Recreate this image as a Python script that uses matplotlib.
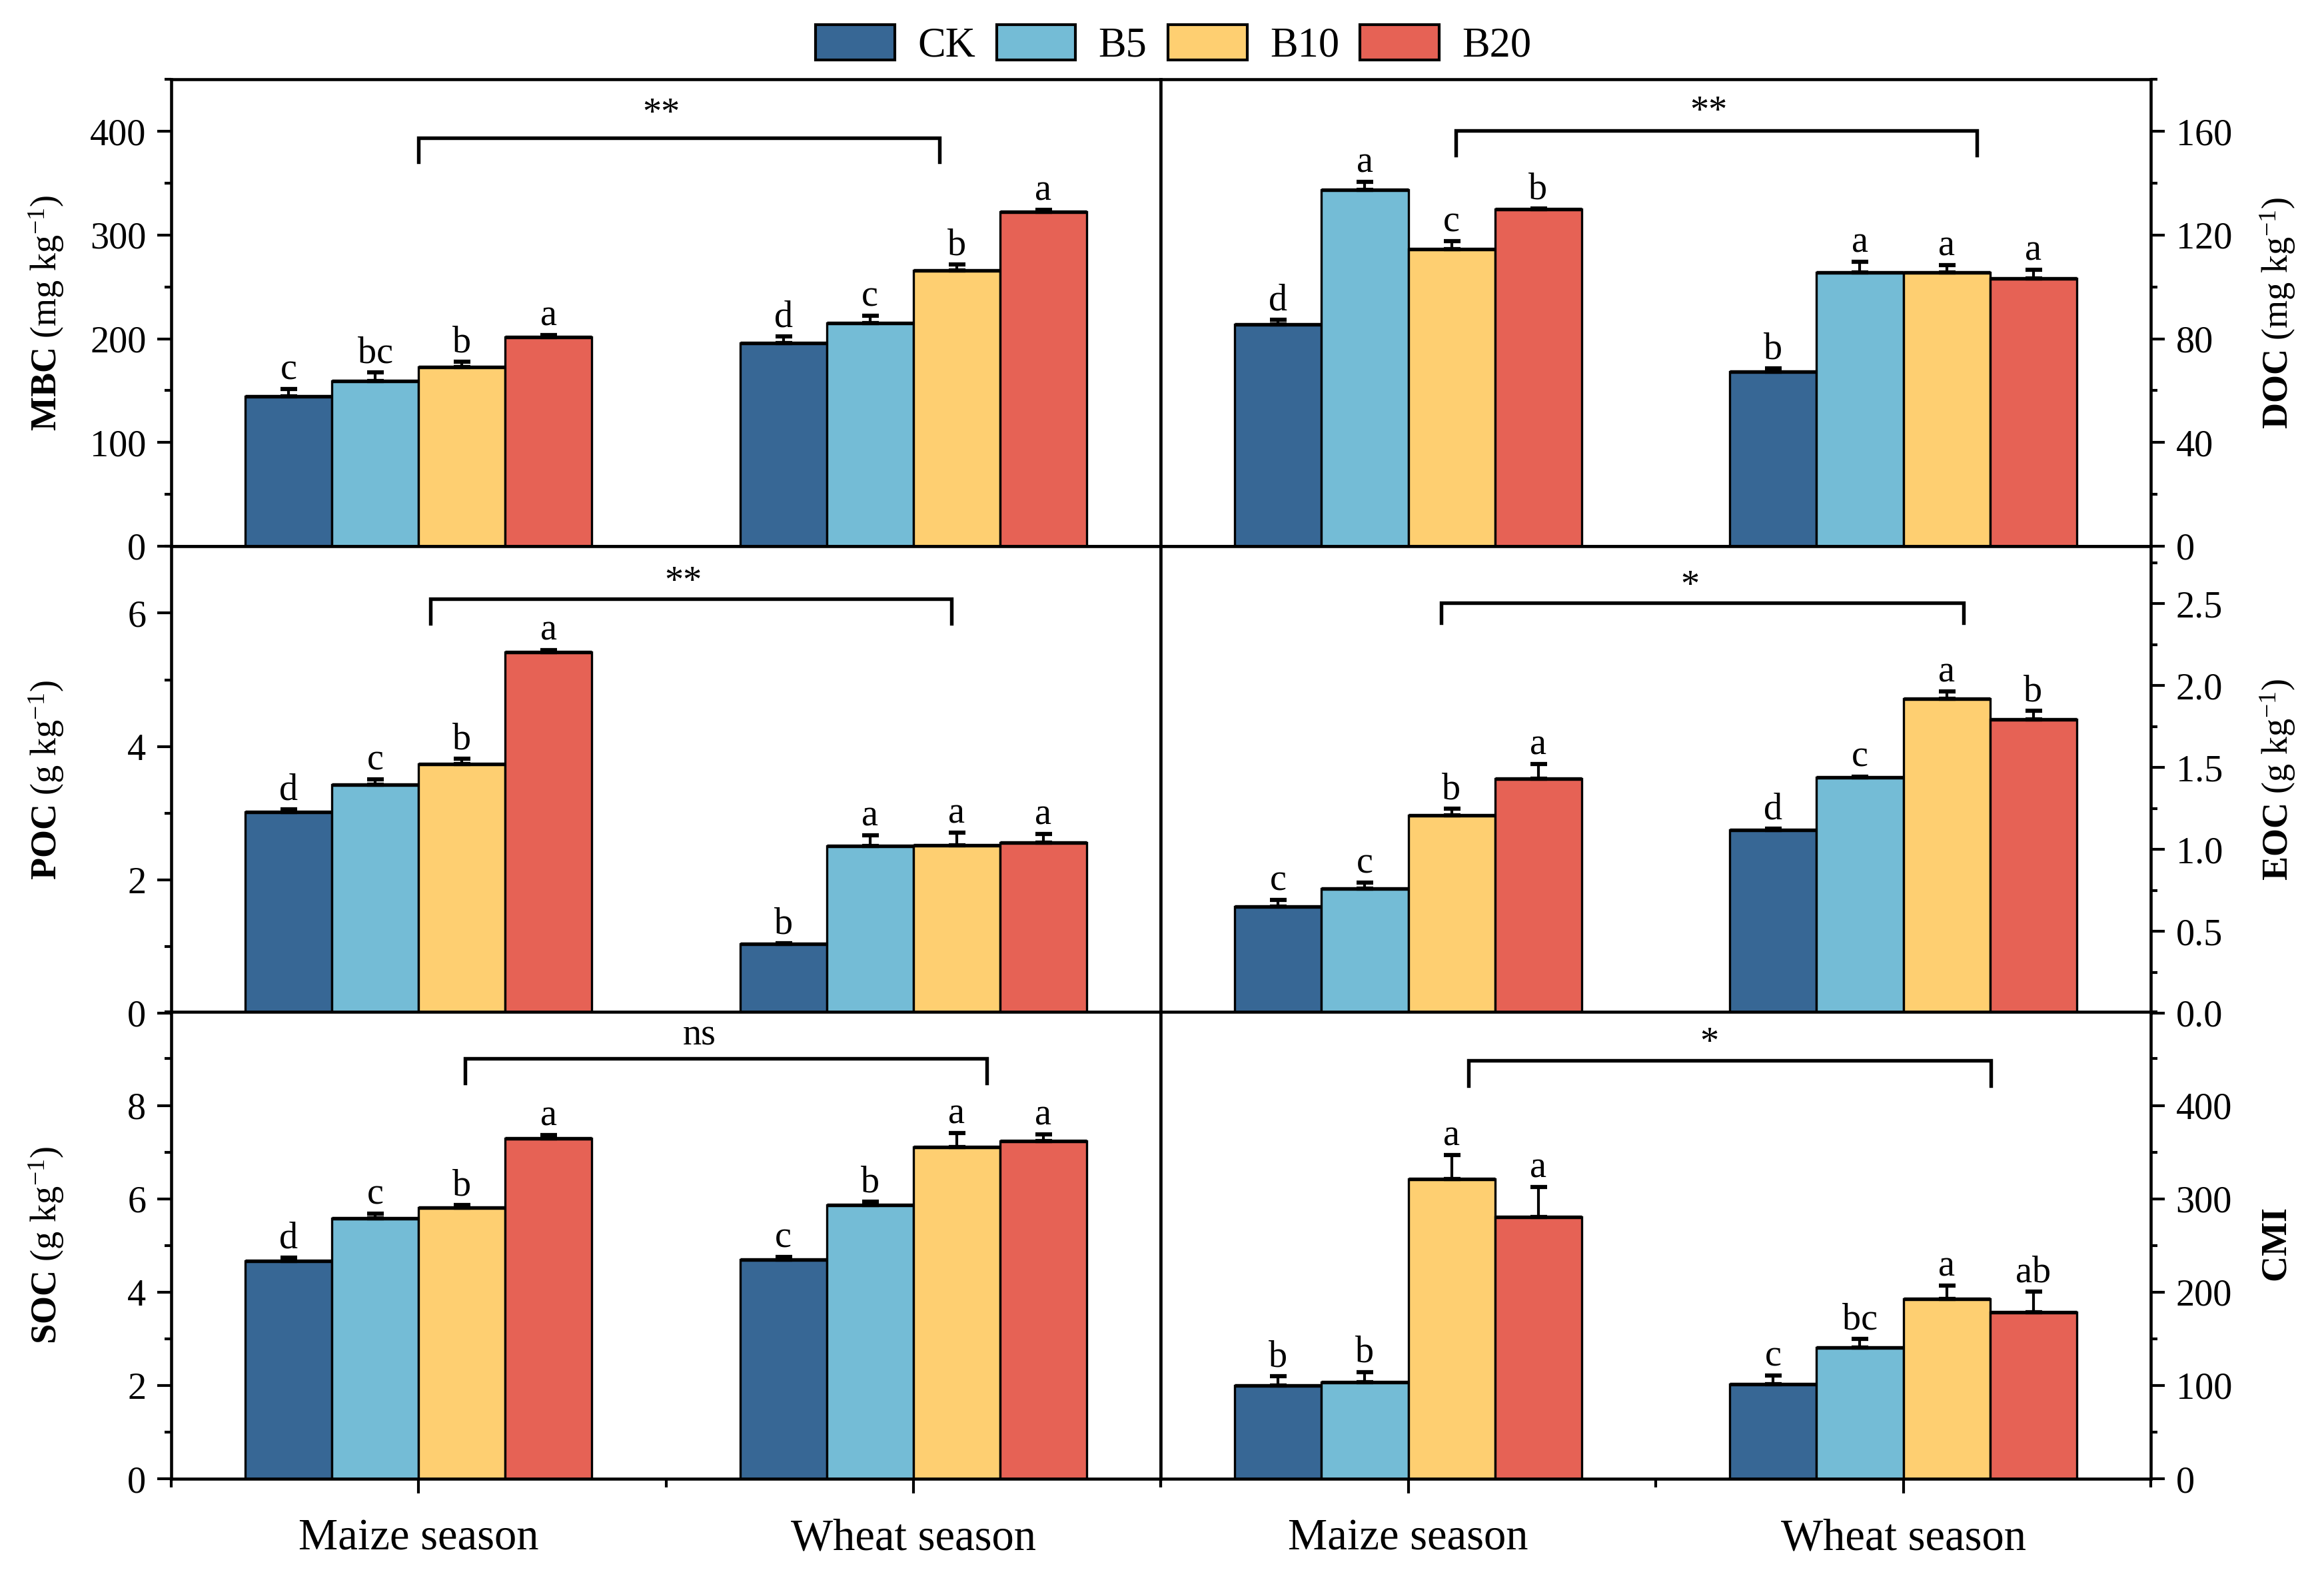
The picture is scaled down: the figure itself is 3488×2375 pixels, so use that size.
import numpy as np
import matplotlib
matplotlib.use('Agg')
import matplotlib.pyplot as plt
from matplotlib.patches import Patch
from matplotlib.ticker import MultipleLocator, FormatStrFormatter

plt.rcParams['font.family'] = ['Liberation Serif', 'DejaVu Serif']
plt.rcParams['mathtext.fontset'] = 'custom'
plt.rcParams['mathtext.rm'] = 'Liberation Serif'
plt.rcParams['mathtext.bf'] = 'Liberation Serif:bold'
plt.rcParams['mathtext.it'] = 'Liberation Serif:italic'

seasons = ['Maize season', 'Wheat season']
treatments = ['CK', 'B5', 'B10', 'B20']
colors = ['#376795', '#74BCD6', '#FECF71', '#E66255']

# rows = season, cols = treatment
mbc_mean = [[144.5, 159.3, 173.0, 201.8], [196.0, 215.2, 265.6, 322.3]]
mbc_err = [[7.0, 8.5, 5.0, 1.5], [6.0, 7.0, 6.0, 1.8]]
mbc_sig = [['c', 'bc', 'b', 'a'], ['d', 'c', 'b', 'a']]

doc_mean = [[85.6, 137.5, 114.7, 129.9], [67.3, 105.5, 105.5, 103.2]]
doc_err = [[1.7, 3.0, 3.0, 0.3], [1.3, 4.2, 2.8, 3.3]]
doc_sig = [['d', 'a', 'c', 'b'], ['b', 'a', 'a', 'a']]

poc_mean = [[3.02, 3.43, 3.74, 5.42], [1.036, 2.506, 2.52, 2.553]]
poc_err = [[0.04, 0.08, 0.08, 0.03], [0.015, 0.16, 0.19, 0.13]]
poc_sig = [['d', 'c', 'b', 'a'], ['b', 'a', 'a', 'a']]

eoc_mean = [[0.652, 0.761, 1.21, 1.432], [1.12, 1.44, 1.921, 1.793]]
eoc_err = [[0.04, 0.035, 0.04, 0.09], [0.006, 0.006, 0.042, 0.055]]
eoc_sig = [['c', 'c', 'b', 'a'], ['d', 'c', 'a', 'b']]

soc_mean = [[4.673, 5.58, 5.805, 7.30], [4.70, 5.87, 7.11, 7.24]]
soc_err = [[0.065, 0.1, 0.055, 0.065], [0.05, 0.07, 0.3, 0.145]]
soc_sig = [['d', 'c', 'b', 'a'], ['c', 'b', 'a', 'a']]

cmi_mean = [[99.7, 103.7, 321.0, 280.4], [101.7, 140.4, 192.6, 178.7]]
cmi_err = [[10.4, 10.8, 26.0, 32.3], [9.2, 9.6, 14.4, 21.5]]
cmi_sig = [['b', 'b', 'a', 'a'], ['c', 'bc', 'a', 'ab']]

# season comparison: x0, x1, top, bottom of bracket, label, label x, label y
mbc_bracket = (1.0, 2.053, 394, 370.6, '**', 1.49, 424.6)
doc_bracket = (1.096, 2.149, 160.4, 150.9, '**', 1.607, 170.6)
poc_bracket = (1.024, 2.077, 6.21, 5.845, '**', 1.535, 6.58)
eoc_bracket = (1.066, 2.122, 2.506, 2.383, '*', 1.569, 2.655)
soc_bracket = (1.094, 2.148, 9.01, 8.48, 'ns', 1.568, 9.5)
cmi_bracket = (1.122, 2.177, 447.9, 421, '*', 1.608, 475)

panels = [
    dict(mean=mbc_mean, err=mbc_err, sig=mbc_sig, br=mbc_bracket, ylim=450, ticks=(400, 100), minor=50,
         fmt='%d', label=r'$\mathbf{MBC}$ (mg kg$^{-1}$)'),
    dict(mean=doc_mean, err=doc_err, sig=doc_sig, br=doc_bracket, ylim=180, ticks=(160, 40), minor=20,
         fmt='%d', label=r'$\mathbf{DOC}$ (mg kg$^{-1}$)'),
    dict(mean=poc_mean, err=poc_err, sig=poc_sig, br=poc_bracket, ylim=7, ticks=(6, 2), minor=1,
         fmt='%d', label=r'$\mathbf{POC}$ (g kg$^{-1}$)'),
    dict(mean=eoc_mean, err=eoc_err, sig=eoc_sig, br=eoc_bracket, ylim=2.85, ticks=(2.5, 0.5), minor=0.25,
         fmt='%.1f', label=r'$\mathbf{EOC}$ (g kg$^{-1}$)'),
    dict(mean=soc_mean, err=soc_err, sig=soc_sig, br=soc_bracket, ylim=10, ticks=(8, 2), minor=1,
         fmt='%d', label=r'$\mathbf{SOC}$ (g kg$^{-1}$)'),
    dict(mean=cmi_mean, err=cmi_err, sig=cmi_sig, br=cmi_bracket, ylim=500, ticks=(400, 100), minor=50,
         fmt='%d', label=r'$\mathbf{CMI}$'),
]

fig = plt.figure(figsize=(3488 / 300, 2375 / 300), dpi=300)

left, mid, right = 0.07368, 0.49943, 0.92546
row_h = 0.2950
bottoms = [0.65474, 0.35958, 0.06526]

width = 0.175
offsets = (np.arange(4) - 1.5) * width
x = np.arange(1, len(seasons) + 1)

for i, p in enumerate(panels):
    row, col = divmod(i, 2)
    x0 = left if col == 0 else mid
    ax = fig.add_axes([x0, bottoms[row], mid - left if col == 0 else right - mid, row_h])
    mean = np.array(p['mean'])
    err = np.array(p['err'])
    for j in range(4):
        xs = x + offsets[j]
        ax.bar(xs, mean[:, j], width, color=colors[j], edgecolor='black', linewidth=0.8, zorder=2)
        # slightly heavier top edge, as in the original
        ax.hlines(mean[:, j], xs - width / 2, xs + width / 2, color='black', lw=1.3, zorder=2.5)
        ax.errorbar(xs, mean[:, j], yerr=[np.zeros(2), err[:, j]], fmt='none', ecolor='black',
                    elinewidth=1.0, capsize=3, capthick=1.5, zorder=3)
        for k in range(2):
            ax.annotate(p['sig'][k][j], (xs[k], mean[k, j] + err[k, j]), xytext=(0, 3.5),
                        textcoords='offset points', ha='center', va='baseline', fontsize=13.5)

    bx0, bx1, btop, bbot, blab, lx, ly = p['br']
    ax.plot([bx0, bx0, bx1, bx1], [bbot, btop, btop, bbot], color='black', lw=1.3,
            solid_joinstyle='miter', zorder=4)
    off = -6.5 if '*' in blab else -3.3
    ax.annotate(blab, (lx, ly), xytext=(0, off), textcoords='offset points',
                ha='center', va='baseline', fontsize=13.5)

    ax.set_xlim(0.5, 2.5)
    ax.set_ylim(0, p['ylim'])
    tmax, tstep = p['ticks']
    ax.set_yticks(np.arange(0, tmax + tstep / 2, tstep))
    ax.yaxis.set_minor_locator(MultipleLocator(p['minor']))
    ax.yaxis.set_major_formatter(FormatStrFormatter(p['fmt']))
    for s in ax.spines.values():
        s.set_linewidth(1.1)

    side = 'left' if col == 0 else 'right'
    ax.tick_params(axis='y', which='both', direction='out', left=(col == 0), right=(col == 1),
                   labelleft=(col == 0), labelright=(col == 1), labelsize=13.5, width=1.0, pad=4)
    ax.tick_params(axis='y', which='major', length=5)
    ax.tick_params(axis='y', which='minor', length=2.5)
    ax.yaxis.set_label_position(side)
    ax.set_ylabel(p['label'], fontsize=13, va='center')
    ax.yaxis.set_label_coords(-0.126 if col == 0 else 1.128, 0.5)

    if row == 2:
        ax.set_xticks(x)
        ax.set_xticklabels(seasons, fontsize=16)
        ax.set_xticks([0.5, 1.5, 2.5], minor=True)
        ax.tick_params(axis='x', which='major', direction='out', length=5.3, width=1.0, pad=9)
        ax.tick_params(axis='x', which='minor', direction='out', length=3, width=1.0)
    else:
        ax.set_xticks([])

handles = [Patch(facecolor=c, edgecolor='black', linewidth=1.0) for c in colors]
fig.legend(handles, treatments, loc='center', bbox_to_anchor=(0.505, 0.9714), ncol=4,
           frameon=False, fontsize=15, handlelength=1.9, handleheight=0.93,
           handletextpad=0.55, columnspacing=0.5)

fig.savefig('out.png', dpi=300)
